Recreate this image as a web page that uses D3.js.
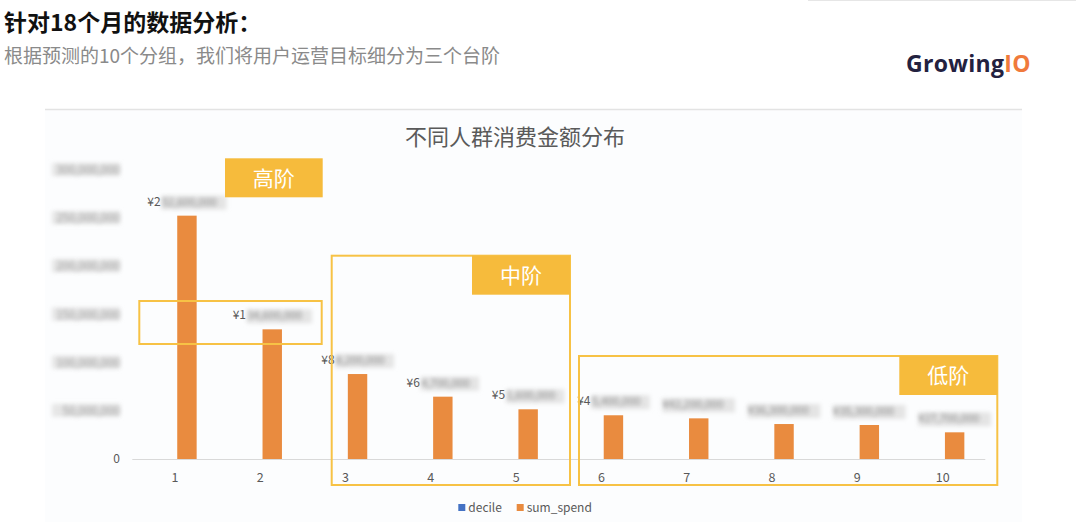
<!DOCTYPE html>
<html><head><meta charset="utf-8">
<script src="https://cdn.jsdelivr.net/npm/d3@7/dist/d3.min.js"></script>
<style>
html,body{margin:0;padding:0;background:#fff;}
svg{display:block;font-family:"Noto Sans CJK SC","Noto Sans",sans-serif;}
</style></head>
<body><svg id="c" width="1080" height="522"></svg>
<script>
// ---- data ----
const categories = ["1","2","3","4","5","6","7","8","9","10"];
const seriesNames = ["decile","sum_spend"];
const seriesColors = ["#4472c4","#e98b3f"];
const decile = [1,2,3,4,5,6,7,8,9,10];
const sumSpend = [252600000,134600000,88200000,64700000,51600000,45400000,42200000,36300000,35300000,27700000];
const labelClearChars = [2,2,2,2,2,2,0,0,0,0];
const yTicks = [0,50000000,100000000,150000000,200000000,250000000,300000000];
const tiers = [
  {name:"高阶", from:"1", to:"2"},
  {name:"中阶", from:"3", to:"5"},
  {name:"低阶", from:"6", to:"10"}
];
const titleText = "针对18个月的数据分析：";
const subtitleText = "根据预测的10个分组，我们将用户运营目标细分为三个台阶";
const chartTitle = "不同人群消费金额分布";

const svg = d3.select("#c");
const defs = svg.append("defs");
defs.append("filter").attr("id","blur").attr("x","-10%").attr("y","-60%").attr("width","120%").attr("height","220%")
  .append("feGaussianBlur").attr("stdDeviation",2.2);

// top faint line
svg.append("line").attr("x1",808).attr("x2",1076).attr("y1",0.5).attr("y2",0.5).attr("stroke","#e6e6e6");

// headings
svg.append("text").attr("x",4).attr("y",31).attr("font-size",23).attr("font-weight",700).attr("fill","#111").text(titleText);
svg.append("text").attr("x",4).attr("y",63).attr("font-size",19).attr("fill","#8a8a8a").text(subtitleText);

// logo
const logo = svg.append("text").attr("x",906).attr("y",72).attr("font-family","'Open Sans',Roboto,sans-serif")
  .attr("font-size",23).attr("font-weight",700).attr("letter-spacing",0.3);
logo.append("tspan").attr("fill","#23213f").text("Growing");
logo.append("tspan").attr("fill","#f07a3c").text("IO");

// panel
svg.append("rect").attr("x",45).attr("y",110).attr("width",977).attr("height",412).attr("fill","#fcfdfe");
svg.append("line").attr("x1",45).attr("x2",1022).attr("y1",109.5).attr("y2",109.5).attr("stroke","#e3e3e3").attr("stroke-width",1.5);

svg.append("text").attr("x",515).attr("y",145).attr("text-anchor","middle").attr("font-size",22).attr("fill","#5a5a5a").text(chartTitle);

// scales
const x = d3.scaleBand().domain(categories).range([132.3,985.3]);
const xs = d3.scaleBand().domain(seriesNames).range([-21.7,21.7]).paddingInner(0.19);
const y = d3.scaleLinear().domain([0,300000000]).range([459,170]);
const cx = c => x(c) + x.bandwidth()/2;

// y tick labels
const fmt = d3.format(",");
const yg = svg.append("g");
yTicks.forEach(t=>{
  if(t===0){
    yg.append("text").attr("x",120).attr("y",y(t)+4).attr("text-anchor","end").attr("font-size",12).attr("fill","#595959").text("0");
  } else {
    yg.append("rect").attr("x",52).attr("y",y(t)-7).attr("width",68).attr("height",13).attr("fill","#e6e6e6").attr("filter","url(#blur)");
    yg.append("text").attr("x",120).attr("y",y(t)+4).attr("text-anchor","end").attr("font-size",11.5).attr("fill","#999")
      .attr("filter","url(#blur)").text(fmt(t));
  }
});

// axis line
svg.append("line").attr("x1",132.3).attr("x2",985.3).attr("y1",459.5).attr("y2",459.5).attr("stroke","#d9d9d9");

// x labels
svg.append("g").selectAll("text").data(categories).join("text")
  .attr("x",c=>cx(c)).attr("y",482).attr("text-anchor","middle").attr("font-size",12.5).attr("fill","#595959").text(c=>c);

// bars
const data = [decile, sumSpend];
seriesNames.forEach((s,si)=>{
  svg.append("g").selectAll("rect").data(categories).join("rect")
    .attr("x",(c)=>cx(c)+xs(s)).attr("width",xs.bandwidth())
    .attr("y",(c,i)=>y(data[si][i])).attr("height",(c,i)=>y(0)-y(data[si][i]))
    .attr("fill",seriesColors[si]);
});

// data labels
const lg = svg.append("g");
categories.forEach((c,i)=>{
  const v = sumSpend[i];
  const full = "¥" + fmt(v);
  const bx = cx(c)+xs("sum_spend")+xs.bandwidth()/2;
  const by = y(v) - 10;
  const n = labelClearChars[i];
  const w = full.length*6.6;
  const x0 = bx - w/2;
  lg.append("rect").attr("x",x0 + n*7).attr("y",by-10).attr("width",w - n*7).attr("height",14).attr("fill","#e4e4e4").attr("filter","url(#blur)");
  if(n>0){
    lg.append("text").attr("x",x0).attr("y",by).attr("font-size",12).attr("fill","#595959").text(full.slice(0,n));
  }
  lg.append("text").attr("x",x0 + n*7.3).attr("y",by).attr("font-size",11).attr("fill","#888").attr("filter","url(#blur)").text(full.slice(n));
});

// tier boxes
const tierColor = "#f6bb3c";
const tierBoxes = [
  {x0:331.7,x1:570,y0:255.7,y1:485},
  {x0:579,x1:997.3,y0:356,y1:485}
];
// 高阶 tag and highlight strip
svg.append("rect").attr("x",225).attr("y",158.3).attr("width",97.7).attr("height",39).attr("fill",tierColor);
svg.append("text").attr("x",273.8).attr("y",185.5).attr("text-anchor","middle").attr("font-size",21).attr("fill","#fff").text(tiers[0].name);
svg.append("rect").attr("x",139.3).attr("y",301).attr("width",182.4).attr("height",43).attr("fill","none").attr("stroke","#f7c245").attr("stroke-width",2);
tierBoxes.forEach((b,k)=>{
  svg.append("rect").attr("x",b.x0).attr("y",b.y0).attr("width",b.x1-b.x0).attr("height",b.y1-b.y0).attr("fill","none").attr("stroke","#f7c245").attr("stroke-width",2);
  svg.append("rect").attr("x",b.x1-98).attr("y",b.y0).attr("width",98).attr("height",39).attr("fill",tierColor);
  svg.append("text").attr("x",b.x1-49).attr("y",b.y0+27).attr("text-anchor","middle").attr("font-size",21).attr("fill","#fff").text(tiers[k+1].name);
});

// legend
const leg = svg.append("g");
const legX = [458.3, 516.7];
seriesNames.forEach((s,i)=>{
  leg.append("rect").attr("x",legX[i]).attr("y",504).attr("width",7).attr("height",7).attr("fill",seriesColors[i]);
  leg.append("text").attr("x",legX[i]+10).attr("y",511.5).attr("font-size",12).attr("fill","#595959").text(s);
});
</script></body></html>
